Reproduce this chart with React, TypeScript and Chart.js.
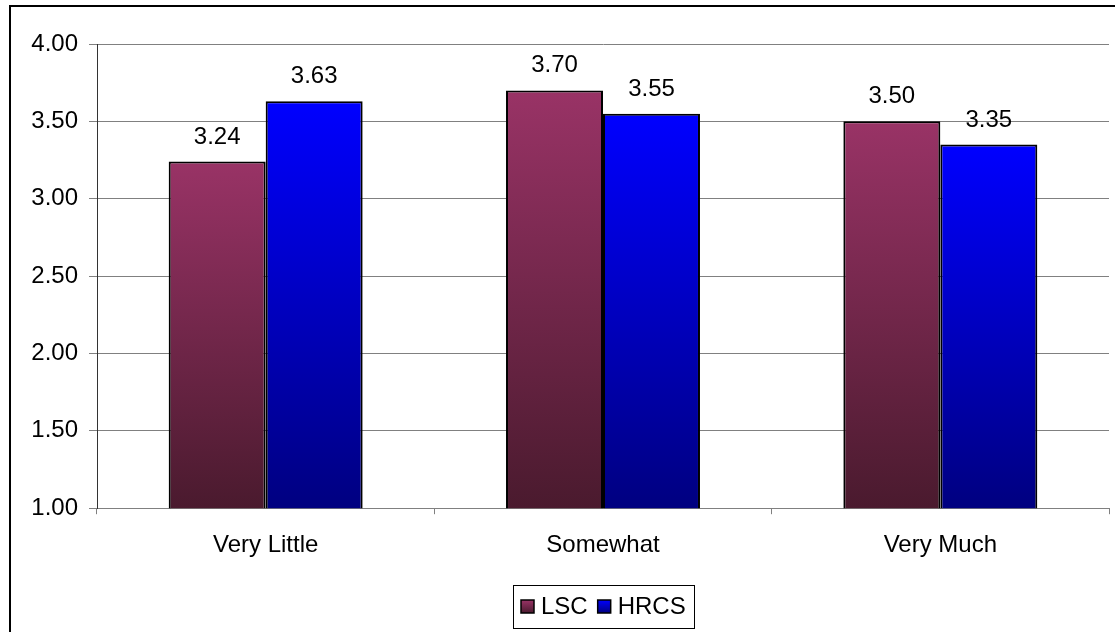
import React, { useEffect, useRef } from "react";
import { Chart, registerables } from "chart.js";

Chart.register(...registerables);

const categories = ["Very Little", "Somewhat", "Very Much"];
const lscValues = [3.24, 3.7, 3.5];
const hrcsValues = [3.63, 3.55, 3.35];
const seriesNames = ["LSC", "HRCS"];
const yMin = 1;
const yMax = 4;
const yStep = 0.5;

const FONT = "'Liberation Sans', Arial, sans-serif";
const FONT_SIZE = 24;

// top and bottom colours of each series' vertical gradient
const gradientStops: [string, string][] = [
  ["#993366", "#4a1a2e"],
  ["#0000ff", "#000080"],
];

function barFill(stops: [string, string]) {
  return (ctx: any) => {
    const chart = ctx.chart;
    const area = chart.chartArea;
    const y = chart.scales?.y;
    if (!area || !y || ctx.type !== "data") return stops[0];
    const top = y.getPixelForValue(ctx.raw as number);
    const base = y.getPixelForValue(yMin);
    if (!isFinite(top) || !isFinite(base) || base - top < 1) return stops[0];
    const g = chart.ctx.createLinearGradient(0, top, 0, base);
    g.addColorStop(0, stops[0]);
    g.addColorStop(1, stops[1]);
    return g;
  };
}

// value captions above each bar
const valueLabels = {
  id: "valueLabels",
  afterDatasetsDraw(chart: any) {
    const c = chart.ctx;
    c.save();
    c.font = `${FONT_SIZE}px ${FONT}`;
    c.fillStyle = "#000";
    c.textAlign = "center";
    c.textBaseline = "alphabetic";
    chart.data.datasets.forEach((ds: any, i: number) => {
      const meta = chart.getDatasetMeta(i);
      meta.data.forEach((el: any, j: number) => {
        const v = ds.data[j] as number;
        c.fillText(v.toFixed(2), el.x, el.y - 18);
      });
    });
    c.restore();
  },
};

// boxed legend centred under the plot area
const boxedLegend = {
  id: "boxedLegend",
  afterDraw(chart: any) {
    const c = chart.ctx;
    const area = chart.chartArea;
    c.save();
    c.font = `${FONT_SIZE}px ${FONT}`;
    const sw = 13;
    const swGap = 7;
    const itemGap = 10;
    const pad = 8;
    const widths = chart.data.datasets.map((ds: any) => c.measureText(ds.label).width);
    let total = pad * 2;
    widths.forEach((w: number, i: number) => {
      total += sw + swGap + w + (i > 0 ? itemGap : 0);
    });
    total = Math.round(total);
    const cx = (area.left + area.right) / 2;
    const left = Math.round(cx - total / 2);
    const top = 585;
    const h = 43;
    const cy = top + h / 2;
    c.strokeStyle = "#000";
    c.lineWidth = 1;
    c.strokeRect(left + 0.5, top + 0.5, total, h);
    let x = left + pad;
    chart.data.datasets.forEach((ds: any, i: number) => {
      if (i > 0) x += itemGap;
      const stops = gradientStops[i];
      const sy = Math.round(cy - sw / 2);
      const g = c.createLinearGradient(0, sy, 0, sy + sw);
      g.addColorStop(0, stops[0]);
      g.addColorStop(1, stops[1]);
      c.fillStyle = g;
      c.fillRect(x, sy, sw, sw);
      c.strokeStyle = "#000";
      c.lineWidth = 1.5;
      c.strokeRect(x, sy, sw, sw);
      x += sw + swGap;
      c.fillStyle = "#000";
      c.textAlign = "left";
      c.textBaseline = "middle";
      c.fillText(ds.label, x, cy + 1);
      x += widths[i];
    });
    c.restore();
  },
};

export default function App() {
  const canvasRef = useRef<HTMLCanvasElement | null>(null);

  useEffect(() => {
    const canvas = canvasRef.current;
    if (!canvas) return;
    const chart = new Chart(canvas, {
      type: "bar",
      data: {
        labels: categories,
        datasets: [
          {
            label: seriesNames[0],
            data: lscValues,
            backgroundColor: barFill(gradientStops[0]),
            borderColor: "#000",
            borderWidth: 2,
            borderSkipped: false,
          },
          {
            label: seriesNames[1],
            data: hrcsValues,
            backgroundColor: barFill(gradientStops[1]),
            borderColor: "#000",
            borderWidth: 2,
            borderSkipped: false,
          },
        ],
      },
      options: {
        responsive: false,
        animation: false,
        devicePixelRatio: 1,
        layout: { padding: { top: 44, left: 20, right: 6, bottom: 55 } },
        datasets: {
          bar: { barPercentage: 1, categoryPercentage: 0.575 },
        },
        plugins: {
          legend: { display: false },
          tooltip: { enabled: false },
        },
        scales: {
          x: {
            offset: true,
            grid: {
              offset: true,
              drawOnChartArea: false,
              drawTicks: true,
              tickLength: 6,
              color: "#808080",
            },
            border: { color: "#808080", width: 1 },
            ticks: {
              color: "#000",
              padding: 17,
              font: { family: FONT, size: FONT_SIZE },
            },
          },
          y: {
            min: yMin,
            max: yMax,
            grid: { color: "#808080", tickLength: 8, lineWidth: 1 },
            border: { color: "#333", width: 1 },
            ticks: {
              stepSize: yStep,
              color: "#000",
              padding: 11,
              font: { family: FONT, size: FONT_SIZE },
              callback: (v: any) => Number(v).toFixed(2),
            },
            afterFit: (scale: any) => {
              scale.width = 77;
            },
          },
        },
      },
      plugins: [valueLabels, boxedLegend],
    });
    return () => chart.destroy();
  }, []);

  return (
    <div
      style={{
        position: "fixed",
        left: 0,
        top: 0,
        width: 1115,
        height: 632,
        overflow: "hidden",
        background: "#fff",
      }}
    >
      <div
        style={{
          position: "absolute",
          left: 9,
          top: 5,
          width: 1200,
          height: 700,
          borderTop: "2px solid #000",
          borderLeft: "2px solid #000",
        }}
      />
      <canvas
        ref={canvasRef}
        width={1115}
        height={632}
        style={{ position: "absolute", left: 0, top: 0, width: 1115, height: 632 }}
      />
    </div>
  );
}
